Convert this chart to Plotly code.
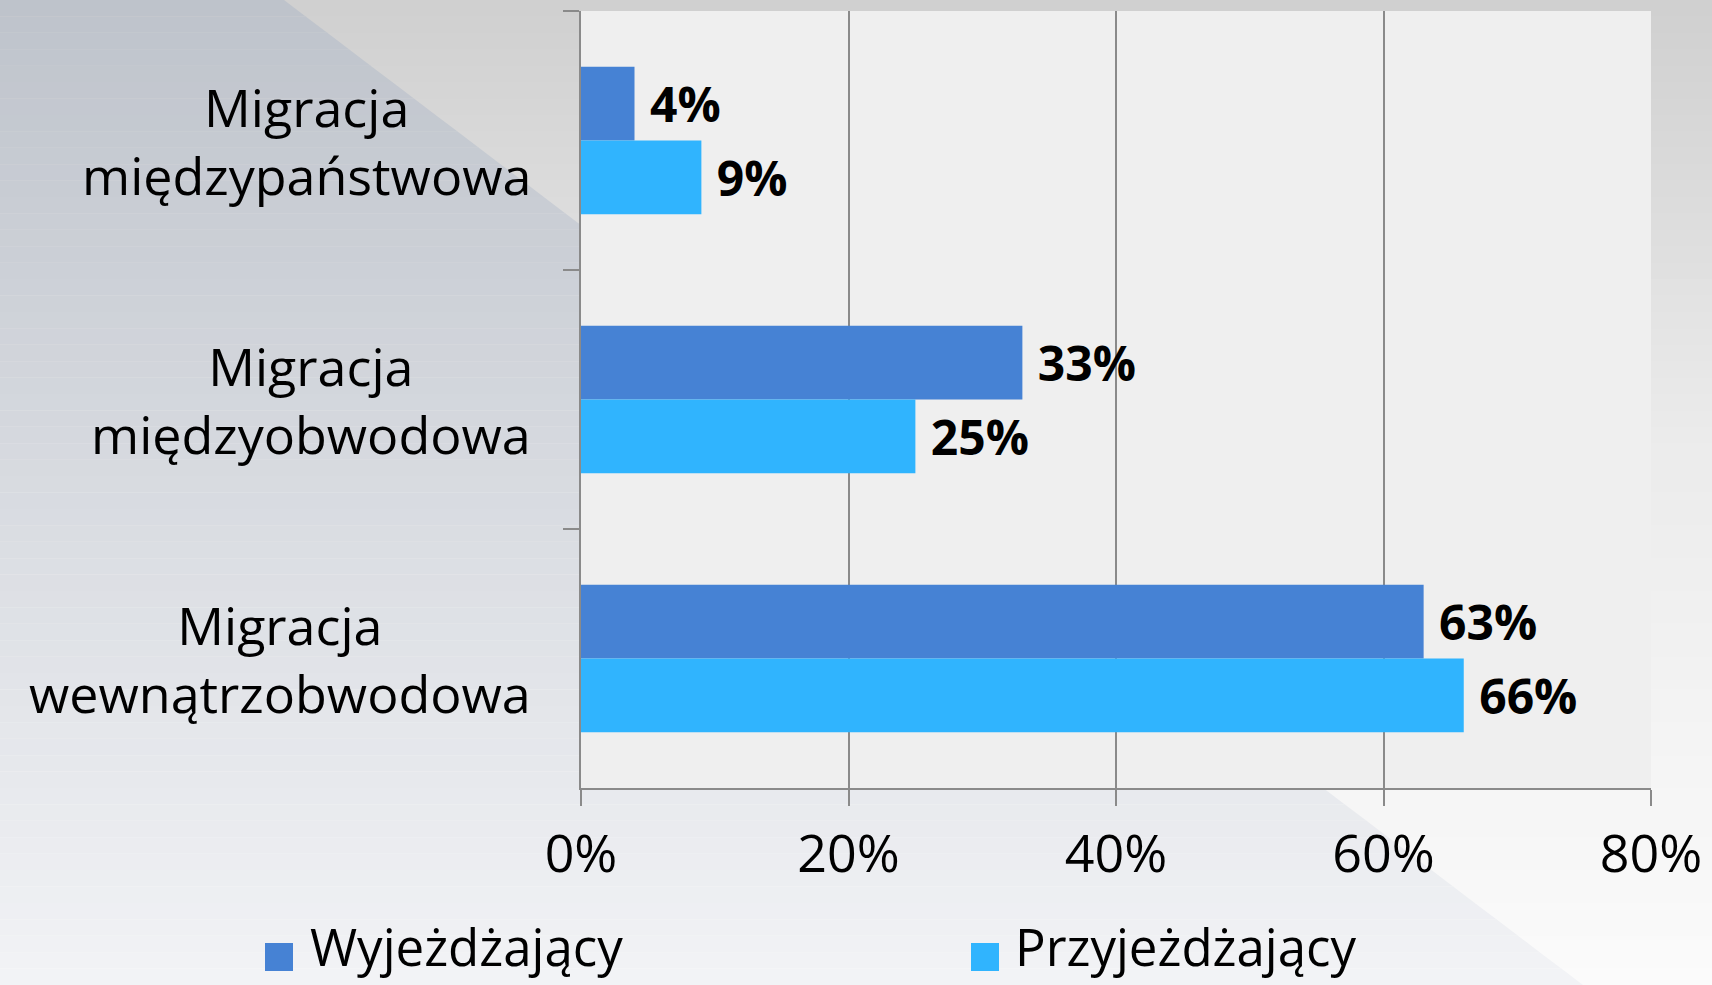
import plotly.graph_objects as go

categories = ["Migracja<br>międzypaństwowa", "Migracja<br>międzyobwodowa", "Migracja<br>wewnątrzobwodowa"]
series_names = ["Wyjeżdżający", "Przyjeżdżający"]
wyjezdzajacy = [0.04, 0.33, 0.63]
przyjezdzajacy = [0.09, 0.25, 0.66]
x_ticks = [0, 0.2, 0.4, 0.6, 0.8]
x_tick_labels = ["0%", "20%", "40%", "60%", "80%"]

colors = ["#4682d4", "#30b4fe"]
FONT = "Open Sans"
W, H = 1712, 985
L, R, T, B = 581, 61, 11, 197
PW, PH = W - L - R, H - T - B


def px(x):
    return (x - L) / PW


def py(y):
    return (H - B - y) / PH


def lerp(c0, c1, t):
    return "rgb(%d,%d,%d)" % tuple(round(a + (b - a) * t) for a, b in zip(c0, c1))


shapes = []
N = 60
for i in range(N):
    y0 = H * i / N
    y1 = H * (i + 1) / N + 1
    t = (i + 0.5) / N
    if t < 0.44:
        cr = lerp((207, 207, 207), (235, 235, 235), t / 0.44)
    else:
        cr = lerp((235, 235, 235), (251, 251, 251), (t - 0.44) / 0.56)
    shapes.append(dict(type="rect", xref="paper", yref="paper", x0=px(0), x1=px(W), y0=py(y1), y1=py(y0),
                       fillcolor=cr, line=dict(width=0), layer="below"))
    cl = lerp((190, 195, 203), (242, 243, 246), t)
    xl0 = 284 + 1.3188 * y0
    xl1 = 284 + 1.3188 * y1
    path = "M %f,%f L %f,%f L %f,%f L %f,%f Z" % (px(0), py(y0), px(xl0), py(y0), px(xl1), py(y1), px(0), py(y1))
    shapes.append(dict(type="path", xref="paper", yref="paper", path=path,
                       fillcolor=cl, line=dict(width=0), layer="below"))

shapes.append(dict(type="rect", xref="paper", yref="paper", x0=0, x1=1, y0=0, y1=1,
                   fillcolor="#efefef", line=dict(width=0), layer="below"))

fig = go.Figure()
for name, vals, col in zip(series_names, [wyjezdzajacy, przyjezdzajacy], colors):
    fig.add_trace(go.Bar(
        y=categories, x=vals, name=name, orientation="h",
        marker=dict(color=col, line=dict(width=0)),
        texttemplate="\u00a0%{x:.0%}", textposition="outside",
        textfont=dict(family=FONT, size=48, color="black", weight="bold"),
        constraintext="none", cliponaxis=False, showlegend=False,
    ))

annotations = []
for c in categories:
    annotations.append(dict(x=0, xref="paper", y=c, yref="y", text=c, showarrow=False,
                            xanchor="right", yanchor="middle", align="center", xshift=-48,
                            font=dict(family=FONT, size=52, color="black")))

leg = [(265, 308), (971, 1013)]
for (sx, tx), name, col in zip(leg, series_names, colors):
    shapes.append(dict(type="rect", xref="paper", yref="paper", x0=px(sx), x1=px(sx + 28),
                       y0=py(971), y1=py(943), fillcolor=col, line=dict(width=0)))
    annotations.append(dict(x=px(tx), xref="paper", y=py(946), yref="paper", text=name, showarrow=False,
                            xanchor="left", yanchor="middle", font=dict(family=FONT, size=51, color="black")))

fig.update_layout(
    width=W, height=H,
    margin=dict(l=L, r=R, t=T, b=B, pad=0),
    paper_bgcolor="#e6e8ec", plot_bgcolor="#efefef",
    barmode="group", bargap=0.43, bargroupgap=0,
    shapes=shapes, annotations=annotations,
    font=dict(family=FONT, color="black"),
    xaxis=dict(range=[0, 0.8], tickvals=x_ticks, ticktext=x_tick_labels,
               showgrid=True, gridcolor="#8a8a8a", gridwidth=2,
               showline=True, linecolor="#8a8a8a", linewidth=2,
               ticks="outside", ticklen=16, tickcolor="#8a8a8a", tickwidth=2,
               ticklabelstandoff=4,
               tickfont=dict(family=FONT, size=52, color="black"), zeroline=False),
    yaxis=dict(type="category", autorange="reversed", showticklabels=False,
               showline=True, linecolor="#8a8a8a", linewidth=2,
               ticks="outside", ticklen=16, tickcolor="#8a8a8a", tickwidth=2,
               tickson="boundaries", showgrid=False),
)

fig.write_html("out.html", config={"displayModeBar": False},
               post_script="document.body.style.margin='0';document.body.style.overflow='hidden';")
